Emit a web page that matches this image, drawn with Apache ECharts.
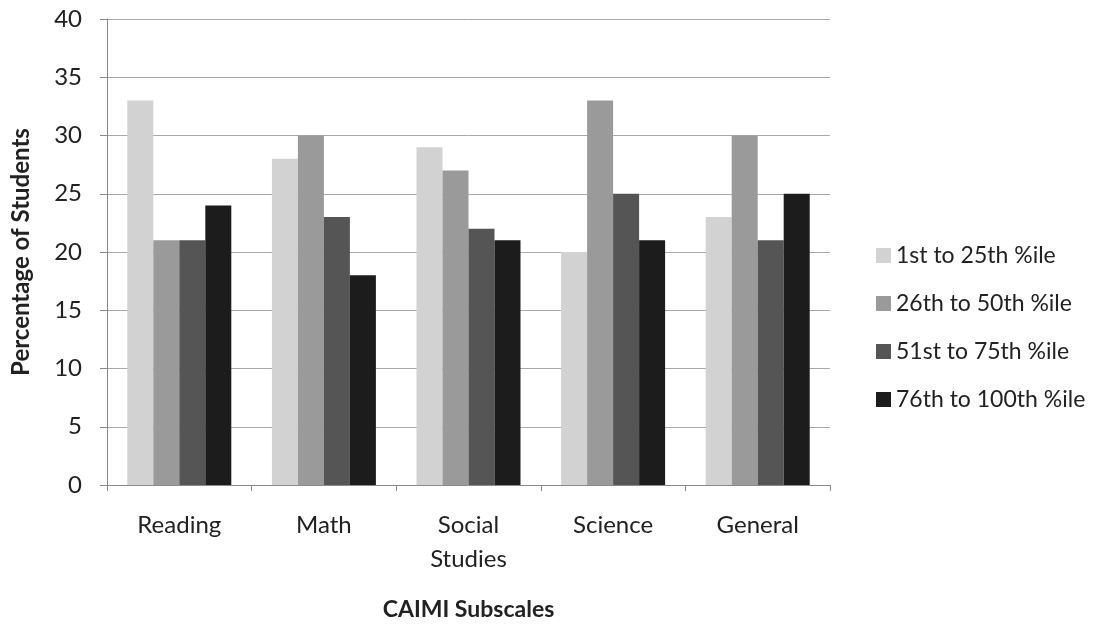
<!DOCTYPE html>
<html>
<head>
<meta charset="utf-8">
<script src="https://cdn.jsdelivr.net/npm/echarts@6/dist/echarts.min.js"></script>
<style>
html,body{margin:0;padding:0;background:#fff;}
#chart{width:1099px;height:626px;}
</style>
</head>
<body>
<div id="chart"></div>
<script>
// CAIMI subscale results by percentile group
const categories = ['Reading', 'Math', 'Social\nStudies', 'Science', 'General'];
const seriesNames = ['1st to 25th %ile', '26th to 50th %ile', '51st to 75th %ile', '76th to 100th %ile'];
const q1 = [33, 28, 29, 20, 23];
const q2 = [21, 30, 27, 33, 30];
const q3 = [21, 23, 22, 25, 21];
const q4 = [24, 18, 21, 21, 25];
const yTicks = [0, 5, 10, 15, 20, 25, 30, 35, 40];

const colors = ['#d2d2d2', '#9a9a9a', '#555555', '#1c1c1c'];
const values = [q1, q2, q3, q4];
const font = 'Lato, "Open Sans", sans-serif';

const chart = echarts.init(document.getElementById('chart'));
chart.setOption({
  animation: false,
  backgroundColor: '#ffffff',
  color: colors,
  grid: { left: 107, right: 269, top: 19, bottom: 138 },
  legend: {
    orient: 'vertical',
    left: 871,
    top: 239,
    itemWidth: 15,
    itemHeight: 15,
    itemGap: 25,
    icon: 'rect',
    textStyle: { fontFamily: font, fontSize: 23, color: '#222' },
    data: seriesNames
  },
  xAxis: {
    type: 'category',
    data: categories,
    name: 'CAIMI Subscales',
    nameLocation: 'middle',
    nameGap: 113,
    nameTextStyle: { fontFamily: font, fontSize: 23, fontWeight: 'bold', color: '#222' },
    axisLine: { lineStyle: { color: '#8a8a8a', width: 1 } },
    axisTick: { show: true, length: 6, lineStyle: { color: '#8a8a8a' } },
    axisLabel: { fontFamily: font, fontSize: 24, color: '#222', margin: 23, lineHeight: 34 }
  },
  yAxis: {
    type: 'value',
    min: yTicks[0],
    max: yTicks[yTicks.length - 1],
    interval: 5,
    name: 'Percentage of Students',
    nameLocation: 'middle',
    nameGap: 74,
    nameRotate: 90,
    nameTextStyle: { fontFamily: font, fontSize: 24, fontWeight: 'bold', color: '#222' },
    axisLine: { show: true, lineStyle: { color: '#8a8a8a', width: 1 } },
    axisTick: { show: true, length: 7, lineStyle: { color: '#8a8a8a' } },
    axisLabel: { fontFamily: font, fontSize: 24, color: '#222', margin: 25 },
    splitLine: { lineStyle: { color: '#a8a8a8', width: 1 } }
  },
  series: values.map((v, i) => ({
    name: seriesNames[i],
    type: 'bar',
    data: v,
    barWidth: 26,
    barGap: '0%',
    itemStyle: { color: colors[i] }
  }))
});
</script>
</body>
</html>
